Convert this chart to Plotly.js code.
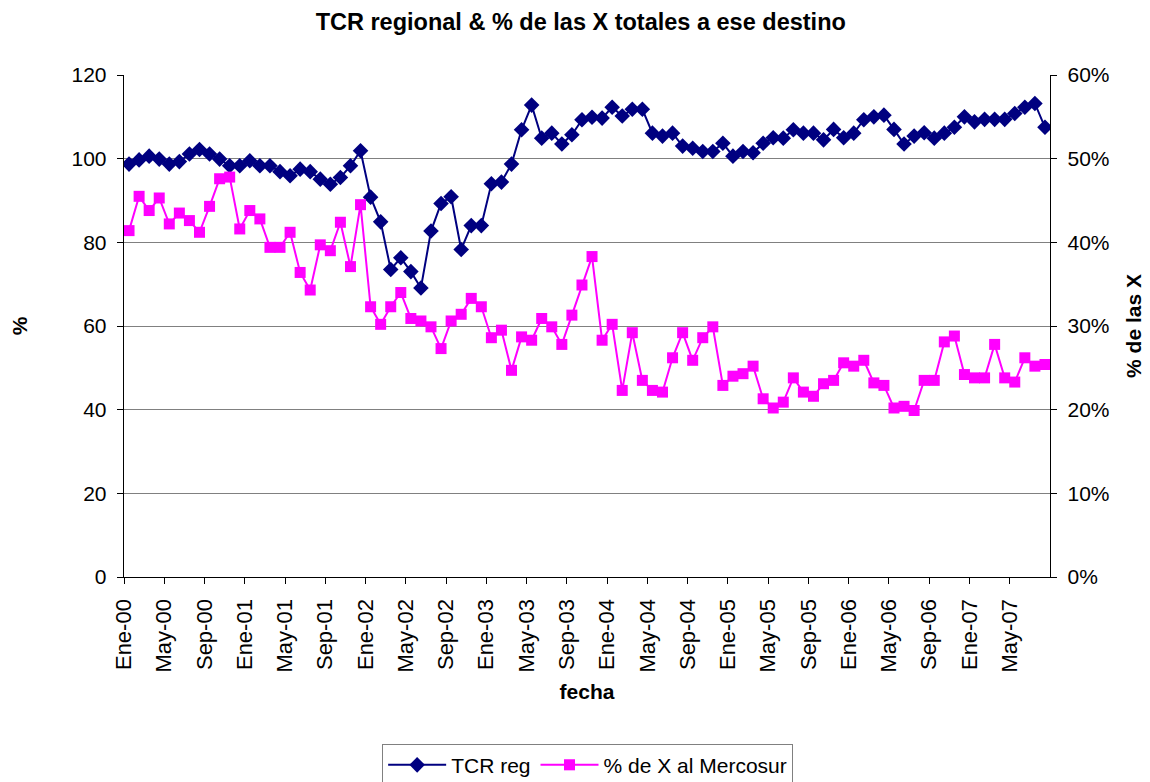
<!DOCTYPE html>
<html>
<head>
<meta charset="utf-8">
<script src="https://cdn.plot.ly/plotly-3.0.1.min.js"></script>
<style>html,body{margin:0;padding:0;background:#fff;}#chart{width:1150px;height:782px;}</style>
</head>
<body>
<div id="chart"></div>
<script>
// Monthly series Ene-00 .. Ago-07 (92 months)
const months = ["Ene","Feb","Mar","Abr","May","Jun","Jul","Ago","Sep","Oct","Nov","Dic"];
const years = ["00","01","02","03","04","05","06","07"];
const tcrReg = [98.7, 99.7, 100.6, 99.9, 98.7, 99.3, 101.1, 102.2, 101.1, 99.9, 98.3, 98.3,
  99.5, 98.3, 98.3, 96.9, 95.9, 97.5, 96.9, 95.1, 93.9, 95.5, 98.3, 101.9,
  90.8, 84.9, 73.5, 76.3, 73.0, 69.1, 82.7, 89.3, 90.9, 78.3, 84.0, 84.0,
  94.0, 94.4, 98.7, 106.9, 112.8, 104.9, 106.1, 103.5, 105.7, 109.3, 109.9, 109.7,
  112.3, 110.2, 111.8, 111.8, 106.1, 105.4, 106.1, 103.0, 102.5, 101.7, 101.7, 103.7,
  100.6, 101.7, 101.4, 103.7, 105.0, 104.9, 106.9, 106.1, 106.1, 104.5, 107.0, 105.0,
  106.1, 109.3, 110.0, 110.4, 107.0, 103.5, 105.4, 106.2, 104.9, 106.1, 107.5, 110.0,
  108.8, 109.4, 109.4, 109.4, 110.8, 112.3, 113.2, 107.5];
const pctMercosur = [41.4, 45.5, 43.8, 45.3, 42.2, 43.5, 42.6, 41.2, 44.3, 47.6, 47.8, 41.6,
  43.8, 42.8, 39.4, 39.4, 41.2, 36.4, 34.3, 39.7, 39.0, 42.4, 37.1, 44.5,
  32.3, 30.2, 32.3, 34.0, 30.9, 30.6, 29.9, 27.3, 30.6, 31.4, 33.3, 32.3,
  28.6, 29.5, 24.7, 28.7, 28.3, 30.9, 29.9, 27.8, 31.3, 34.9, 38.3, 28.3,
  30.2, 22.3, 29.2, 23.5, 22.3, 22.1, 26.2, 29.2, 25.9, 28.6, 29.9, 22.9,
  24.0, 24.3, 25.2, 21.3, 20.2, 20.9, 23.8, 22.1, 21.6, 23.1, 23.5, 25.6,
  25.2, 25.9, 23.2, 22.9, 20.2, 20.4, 19.9, 23.5, 23.5, 28.1, 28.8, 24.2,
  23.8, 23.8, 27.8, 23.8, 23.3, 26.2, 25.2, 25.4];

const labels = [];
for (let i = 0; i < tcrReg.length; i++) {
  labels.push(months[i % 12] + "-" + years[Math.floor(i / 12)]);
}
const idx = tcrReg.map((_, i) => i);
const tickVals = [], tickText = [];
for (let i = 0; i < tcrReg.length; i += 4) { tickVals.push(i - 0.5); tickText.push(labels[i]); }

const FONT = "Liberation Sans, Arial, sans-serif";

const traces = [
  {
    x: idx, y: tcrReg, text: labels, name: "TCR reg", type: "scatter", mode: "lines+markers",
    line: {color: "#000080", width: 2},
    marker: {symbol: "diamond", size: 12, color: "#000080"},
    hovertemplate: "%{text}: %{y}<extra></extra>"
  },
  {
    x: idx, y: pctMercosur, text: labels, name: "% de X al Mercosur", type: "scatter", mode: "lines+markers",
    yaxis: "y2",
    line: {color: "#FF00FF", width: 2},
    marker: {symbol: "square", size: 11, color: "#FF00FF"},
    hovertemplate: "%{text}: %{y}%<extra></extra>"
  }
];

const layout = {
  width: 1150, height: 782,
  paper_bgcolor: "#fff", plot_bgcolor: "#fff",
  font: {family: FONT, size: 21, color: "#000"},
  margin: {l: 124, r: 100, t: 75, b: 205, pad: 0, autoexpand: false},
  title: {text: "<b>TCR regional & % de las X totales a ese destino</b>",
          font: {family: FONT, size: 23.5, color: "#000"},
          x: 0.505, xref: "container", xanchor: "center",
          y: 0.972, yref: "container", yanchor: "middle"},
  showlegend: true,
  legend: {orientation: "h", x: 0.511, xref: "container", xanchor: "center",
           y: 0.049, yref: "container", yanchor: "top",
           bordercolor: "#808080", borderwidth: 1, bgcolor: "#fff",
           font: {family: FONT, size: 21, color: "#000"}, itemwidth: 58, tracegroupgap: 0},
  xaxis: {
    range: [-0.5, tcrReg.length - 0.5], tickmode: "array", tickvals: tickVals, ticktext: tickText,
    tickangle: -90, ticks: "outside", ticklen: 6, tickcolor: "#000", tickwidth: 1, ticklabelstandoff: 6,
    showline: true, linecolor: "#000", linewidth: 1.3, showgrid: false, zeroline: false,
    tickfont: {family: FONT, size: 22, color: "#000"}, automargin: false,
    title: {text: "<b>fecha</b>", font: {family: FONT, size: 21, color: "#000"}, standoff: 12}
  },
  yaxis: {
    range: [0, 120], dtick: 20, tick0: 0, ticks: "outside", ticklen: 6, tickcolor: "#000", ticklabelstandoff: 6,
    showline: true, linecolor: "#000", linewidth: 1.3, showgrid: true, gridcolor: "#808080", gridwidth: 1,
    zeroline: false, tickfont: {family: FONT, size: 21, color: "#000"}, automargin: false,
    title: {text: "<b>%</b>", font: {family: FONT, size: 21, color: "#000"}, standoff: 38}
  },
  yaxis2: {
    range: [0, 60], dtick: 10, tick0: 0, ticksuffix: "%", overlaying: "y", side: "right",
    ticks: "outside", ticklen: 6, tickcolor: "#000", ticklabelstandoff: 6,
    showline: true, linecolor: "#000", linewidth: 1.3,
    showgrid: false, zeroline: false, tickfont: {family: FONT, size: 21, color: "#000"}, automargin: false,
    title: {text: "<b>% de las X</b>", font: {family: FONT, size: 21, color: "#000"}, standoff: 17}
  }
};

Plotly.newPlot("chart", traces, layout, {displayModeBar: false, staticPlot: true});
</script>
</body>
</html>
